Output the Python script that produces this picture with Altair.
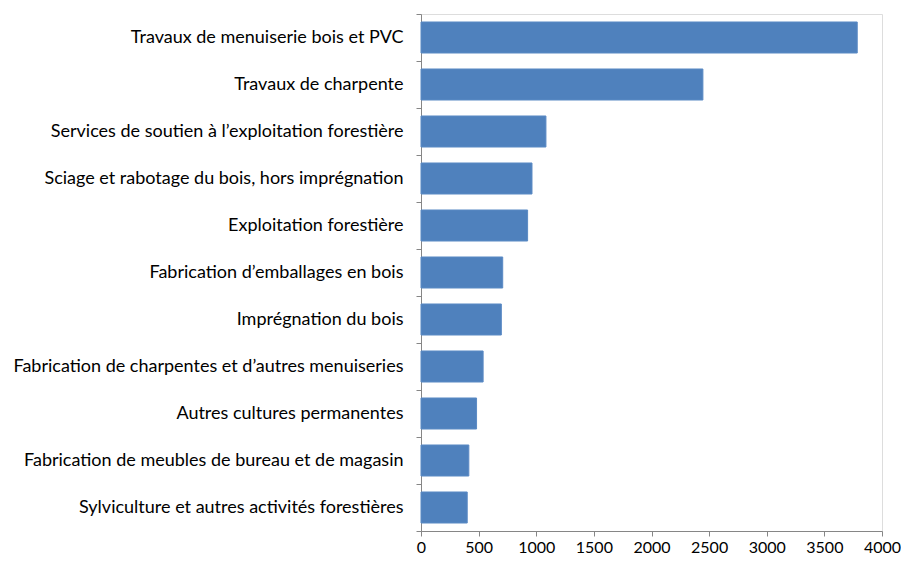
import altair as alt
import pandas as pd

categories = [
    "Travaux de menuiserie bois et PVC",
    "Travaux de charpente",
    "Services de soutien à l’exploitation forestière",
    "Sciage et rabotage du bois, hors imprégnation\u00a0",
    "Exploitation forestière\u00a0",
    "Fabrication d’emballages en bois",
    "Imprégnation du bois",
    "Fabrication de charpentes et d’autres menuiseries",
    "Autres cultures permanentes\u00a0",
    "Fabrication de meubles de bureau et de magasin",
    "Sylviculture et autres activités forestières",
]
values = [3785, 2446, 1084, 963, 925, 709, 697, 539, 482, 415, 401]
x_ticks = [0, 500, 1000, 1500, 2000, 2500, 3000, 3500, 4000]

df = pd.DataFrame({"cat": categories, "val": values})

FONT = "Lato"
AX = "#868686"

y_enc = alt.Y(
    "cat:N",
    sort=categories,
    title=None,
    scale=alt.Scale(paddingInner=0, paddingOuter=0),
    axis=alt.Axis(
        tickBand="extent",
        tickSize=5,
        tickColor=AX,
        domainColor=AX,
        labelFont=FONT,
        labelFontSize=18,
        labelColor="#000000",
        labelPadding=13,
        labelLimit=600,
    ),
)

bars = alt.Chart(df).mark_bar(
    height={"band": 0.66}, color="#4F81BD", stroke="#5B8AC4", strokeWidth=1
).encode(
    y=y_enc,
    x=alt.X(
        "val:Q",
        title=None,
        scale=alt.Scale(domain=[0, 4000], nice=False),
        axis=alt.Axis(
            values=x_ticks,
            format="d",
            grid=False,
            tickSize=5,
            tickColor=AX,
            domainColor=AX,
            labelFont=FONT,
            labelFontSize=16,
            labelColor="#000000",
            labelPadding=3,
            labelFlush=False,
        ),
    ),
)

chart = bars.properties(
    width=461,
    height=517,
    autosize=alt.AutoSizeParams(type="none"),
    padding={"left": 413, "top": 6, "right": 19, "bottom": 26},
).configure_view(strokeWidth=0, stroke="transparent").configure(background="white")

chart.save("out.html", embed_options={"renderer": "svg", "actions": False})
